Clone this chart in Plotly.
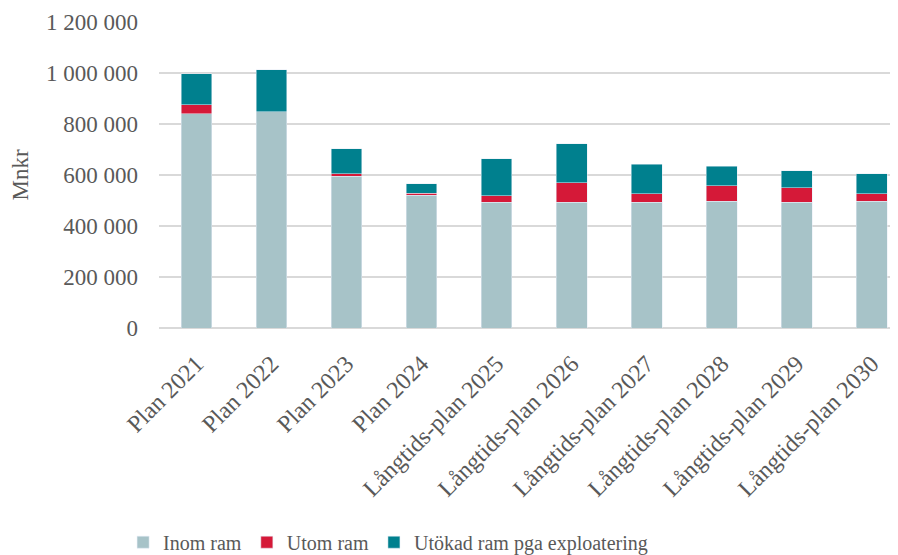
import plotly.graph_objects as go

categories = ["Plan 2021", "Plan 2022", "Plan 2023", "Plan 2024",
              "Långtids-plan 2025", "Långtids-plan 2026", "Långtids-plan 2027",
              "Långtids-plan 2028", "Långtids-plan 2029", "Långtids-plan 2030"]
inom_ram = [840000, 848000, 596000, 521000, 494000, 494000, 494000, 498000, 494000, 498000]
utom_ram = [35000, 0, 9000, 8000, 25000, 75000, 33000, 60000, 56000, 29000]
utokad_ram = [122000, 165000, 97000, 36000, 144000, 153000, 116000, 77000, 66000, 77000]
y_ticks = [0, 200000, 400000, 600000, 800000, 1000000, 1200000]

font_family = "Liberation Serif"
text_color = "#595959"

fig = go.Figure()
fig.add_bar(x=categories, y=inom_ram, name="Inom ram", marker_color="#A7C3C8", width=0.41)
fig.add_bar(x=categories, y=utom_ram, name="Utom ram", marker_color="#D51938", width=0.41)
fig.add_bar(x=categories, y=utokad_ram, name="Utökad ram pga exploatering", marker_color="#00808E", width=0.41)

fig.update_layout(
    barmode="stack",
    width=890, height=547,
    margin=dict(l=151, r=0, t=14, b=227, autoexpand=False),
    paper_bgcolor="white", plot_bgcolor="white",
    separators=", ",
    font=dict(family=font_family, size=22, color=text_color),
    showlegend=True,
    legend=dict(orientation="h", x=0.31, xanchor="center", y=-0.70, yanchor="middle",
                font=dict(family=font_family, size=20, color=text_color), traceorder="normal"),
)
fig.update_xaxes(range=[-0.5, 9.35], tickangle=-45, showgrid=False, showline=False,
                 ticks="", automargin=False, ticklabelstandoff=16,
                 tickfont=dict(family=font_family, size=24, color=text_color))
fig.update_yaxes(range=[0, 1200000], tickvals=y_ticks, tickformat=",.0f",
                 showgrid=True, gridcolor="#D9D9D9", gridwidth=2,
                 zeroline=True, zerolinecolor="#D9D9D9", zerolinewidth=2,
                 ticks="", ticklabelstandoff=20, automargin=False,
                 tickfont=dict(family=font_family, size=23, color=text_color),
                 title=dict(text="Mnkr", font=dict(family=font_family, size=23, color=text_color),
                            standoff=12))

fig.write_html("out.html")
